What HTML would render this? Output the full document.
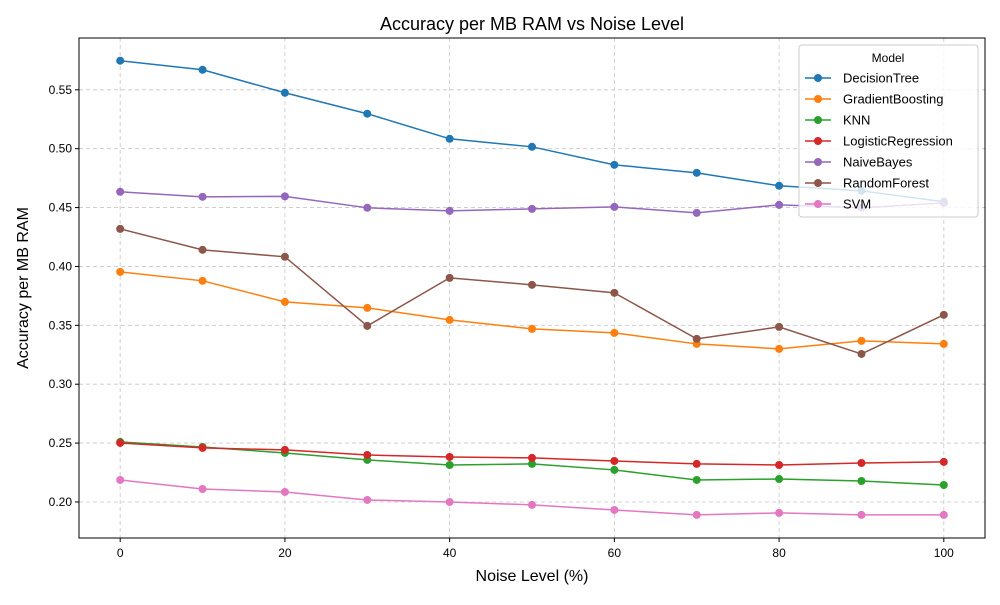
<!DOCTYPE html>
<html><head><meta charset="utf-8"><style>
body{margin:0;background:#fff;font-family:"Liberation Sans","DejaVu Sans",sans-serif}
</style></head><body>
<svg id="chart" width="1000" height="600" xmlns="http://www.w3.org/2000/svg" font-family="Liberation Sans, DejaVu Sans, sans-serif">
<rect width="1000" height="600" fill="#fff"/>
<text x="532" y="30" text-anchor="middle" font-size="18">Accuracy per MB RAM vs Noise Level</text>
<text x="532" y="581" text-anchor="middle" font-size="16">Noise Level (%)</text>
<text transform="translate(28,288) rotate(-90)" text-anchor="middle" font-size="16">Accuracy per MB RAM</text>
<g id="grid"></g><g id="axes"></g><g id="series"></g><g id="legend"></g>
</svg>
<script>
const noise=[0,10,20,30,40,50,60,70,80,90,100];
const models=["DecisionTree","GradientBoosting","KNN","LogisticRegression","NaiveBayes","RandomForest","SVM"];
const colors=["#1f77b4","#ff7f0e","#2ca02c","#d62728","#9467bd","#8c564b","#e377c2"];
const decisionTree=[0.5747,0.567,0.5475,0.5297,0.5084,0.5016,0.4863,0.4795,0.4685,0.4642,0.4549];
const gradientBoosting=[0.3954,0.3878,0.3699,0.3648,0.3546,0.347,0.3436,0.3342,0.3300,0.3368,0.3342];
const knn=[0.251,0.2467,0.2416,0.2357,0.2314,0.2323,0.2272,0.2187,0.2195,0.2178,0.2144];
const logisticRegression=[0.2501,0.2459,0.2442,0.2399,0.2382,0.2374,0.2348,0.2323,0.2314,0.2331,0.234];
const naiveBayes=[0.4634,0.4591,0.4595,0.4498,0.4472,0.4489,0.4506,0.4455,0.4523,0.4498,0.454];
const randomForest=[0.4319,0.4141,0.4082,0.3495,0.3903,0.3844,0.3776,0.3385,0.3487,0.3257,0.3589];
const svmVals=[0.2187,0.211,0.2085,0.2017,0.2,0.1975,0.1932,0.189,0.1907,0.189,0.189];
const seriesData=[decisionTree,gradientBoosting,knn,logisticRegression,naiveBayes,randomForest,svmVals];
const xTicks=[0,20,40,60,80,100];
const yTicks=[0.20,0.25,0.30,0.35,0.40,0.45,0.50,0.55];
const L=79,R=985,T=38,B=538,xMin=-5,xMax=105,yMin=0.1694,yMax=0.594;
const X=v=>L+(v-xMin)/(xMax-xMin)*(R-L);
const Y=v=>B-(v-yMin)/(yMax-yMin)*(B-T);
const NS="http://www.w3.org/2000/svg";
function mk(tag,attrs,parent,txt){const e=document.createElementNS(NS,tag);for(const k in attrs)e.setAttribute(k,attrs[k]);if(txt!=null)e.textContent=txt;parent.appendChild(e);return e;}
const grid=document.getElementById('grid'),axes=document.getElementById('axes'),ser=document.getElementById('series'),leg=document.getElementById('legend');
xTicks.forEach(t=>{const x=X(t);
const g=mk('line',{x1:x,x2:x,y1:T,y2:B,stroke:'#b0b0b0','stroke-width':0.8,'stroke-dasharray':'4,3',opacity:0.7},grid);

mk('line',{x1:x,x2:x,y1:B,y2:B+4,stroke:'#000'},axes);
const t1=mk('text',{x:x,y:B+19,'text-anchor':'middle','font-size':12},axes,String(t));
});
yTicks.forEach(t=>{const y=Y(t);
const g=mk('line',{x1:L,x2:R,y1:y,y2:y,stroke:'#b0b0b0','stroke-width':0.8,'stroke-dasharray':'4,3',opacity:0.7},grid);

mk('line',{x1:L-4,x2:L,y1:y,y2:y,stroke:'#000'},axes);
const t1=mk('text',{x:L-7,y:y+4,'text-anchor':'end','font-size':12},axes,t.toFixed(2));
});
const frame=mk('rect',{x:L,y:T,width:R-L,height:B-T,fill:'none',stroke:'#000','stroke-width':1},axes);

seriesData.forEach((d,i)=>{
const g=mk('g',{},ser);

mk('polyline',{points:d.map((v,j)=>X(noise[j])+','+Y(v)).join(' '),fill:'none',stroke:colors[i],'stroke-width':1.5},g);
d.forEach((v,j)=>{const c=mk('circle',{cx:X(noise[j]),cy:Y(v),r:4,fill:colors[i]},g);
});
});
const box=mk('rect',{x:799,y:45,width:179,height:172,rx:3,fill:'#fff','fill-opacity':0.8,stroke:'#ccc'},leg);

const lt=mk('text',{x:888,y:62,'text-anchor':'middle','font-size':12},leg,'Model');

models.forEach((m,i)=>{const y=78+i*21;
const g=mk('g',{},leg);

mk('line',{x1:805,x2:831,y1:y,y2:y,stroke:colors[i],'stroke-width':1.5},g);
mk('circle',{cx:818,cy:y,r:4,fill:colors[i]},g);
mk('text',{x:843,y:y+4.5,'font-size':13},g,m);});
</script>
</body></html>
